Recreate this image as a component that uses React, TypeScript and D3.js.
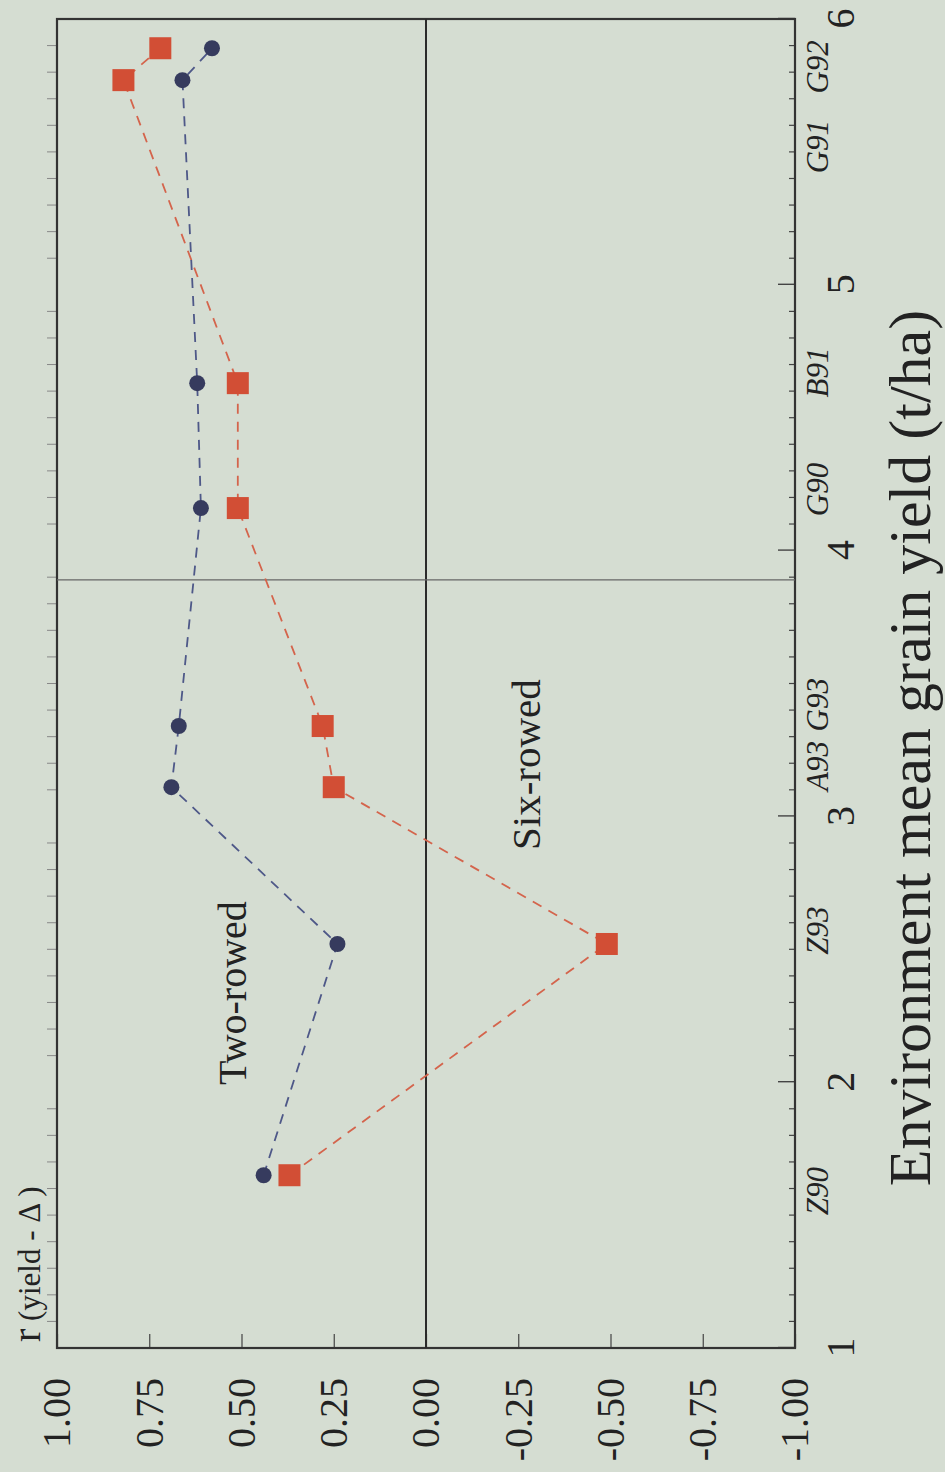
import { useEffect, useRef } from "react";
import * as d3 from "d3";

// environments, ordered by mean grain yield
const environments = ["Z90", "Z93", "A93", "G93", "G90", "B91", "G91", "G92"];
const envYield = [1.65, 2.52, 3.11, 3.34, 4.16, 4.63, 5.77, 5.89];
const twoRowed = [0.44, 0.24, 0.69, 0.67, 0.61, 0.62, 0.66, 0.58];
const sixRowed = [0.37, -0.49, 0.25, 0.28, 0.51, 0.51, 0.82, 0.72];
// where the environment names sit along the yield axis
const labelYield = [1.59, 2.57, 3.19, 3.42, 4.23, 4.67, 5.52, 5.82];
const rTicks = [1, 0.75, 0.5, 0.25, 0, -0.25, -0.5, -0.75, -1];
const yieldTicks = [1, 2, 3, 4, 5, 6];
const refYield = 3.89;

const FONT = "'Liberation Serif', 'Times New Roman', serif";

function App() {
  const ref = useRef<SVGSVGElement>(null);

  useEffect(() => {
    const pageW = 945;
    const pageH = 1472;
    // chart is drawn upright, then turned a quarter turn
    const W = pageH;
    const H = pageW;
    const margin = { top: 57, right: 19, bottom: 150, left: 124 };

    const svg = d3.select(ref.current);
    svg.selectAll("*").remove();

    svg.append("rect").attr("width", pageW).attr("height", pageH).attr("fill", "#d5ddd2");

    const g = svg.append("g").attr("transform", `translate(0,${pageH}) rotate(-90)`);

    const x = d3.scaleLinear().domain([1, 6]).range([margin.left, W - margin.right]);
    const y = d3.scaleLinear().domain([-1, 1]).range([H - margin.bottom, margin.top]);

    // minor ticks along the yield axis
    const minor = d3.range(1, 6.0001, 0.1).filter((v) => Math.abs(v - Math.round(v)) > 0.01);
    g.append("g")
      .selectAll("line")
      .data(minor)
      .join("line")
      .attr("x1", (d) => x(d))
      .attr("x2", (d) => x(d))
      .attr("y1", y(-1))
      .attr("y2", y(-1) - 6)
      .attr("stroke", "#444")
      .attr("stroke-width", 1.2);
    g.append("g")
      .selectAll("line")
      .data(minor)
      .join("line")
      .attr("x1", (d) => x(d))
      .attr("x2", (d) => x(d))
      .attr("y1", y(1))
      .attr("y2", y(1) - 10)
      .attr("stroke", "#888")
      .attr("stroke-width", 1);

    const yAxis = g
      .append("g")
      .attr("transform", `translate(${margin.left},0)`)
      .call(
        d3
          .axisLeft(y)
          .tickValues(rTicks)
          .tickSize(-14)
          .tickPadding(30)
          .tickFormat((d) => (+d).toFixed(2))
      );
    yAxis.select(".domain").remove();
    yAxis.selectAll("line").attr("stroke", "#444").attr("stroke-width", 1.2);
    yAxis.selectAll("text").attr("font-size", 40).attr("font-family", FONT).attr("fill", "#222");

    const xAxis = g
      .append("g")
      .attr("transform", `translate(0,${H - margin.bottom})`)
      .call(d3.axisBottom(x).tickValues(yieldTicks).tickSize(-17).tickPadding(31).tickFormat(d3.format("d")));
    xAxis.select(".domain").remove();
    xAxis.selectAll("line").attr("stroke", "#444").attr("stroke-width", 1.4);
    xAxis.selectAll("text").attr("font-size", 40).attr("font-family", FONT).attr("fill", "#222");

    // frame, zero line and reference line
    g.append("rect")
      .attr("x", x(1))
      .attr("y", y(1))
      .attr("width", x(6) - x(1))
      .attr("height", y(-1) - y(1))
      .attr("fill", "none")
      .attr("stroke", "#333")
      .attr("stroke-width", 2.2);
    g.append("line")
      .attr("x1", x(1))
      .attr("x2", x(6))
      .attr("y1", y(0))
      .attr("y2", y(0))
      .attr("stroke", "#2a2a2a")
      .attr("stroke-width", 2);
    g.append("line")
      .attr("x1", x(refYield))
      .attr("x2", x(refYield))
      .attr("y1", y(1))
      .attr("y2", y(-1))
      .attr("stroke", "#666")
      .attr("stroke-width", 1.4);

    // environment names
    g.append("g")
      .selectAll("text")
      .data(environments)
      .join("text")
      .attr("x", (d, i) => x(labelYield[i]))
      .attr("y", 828)
      .attr("text-anchor", "middle")
      .attr("font-style", "italic")
      .attr("font-size", 31)
      .attr("font-family", FONT)
      .attr("fill", "#222")
      .text((d) => d);

    const line = d3
      .line<number>()
      .x((d, i) => x(envYield[i]))
      .y((d) => y(d));

    g.append("path")
      .datum(sixRowed)
      .attr("fill", "none")
      .attr("stroke", "#d4644c")
      .attr("stroke-width", 1.8)
      .attr("stroke-dasharray", "10,8")
      .attr("d", line);
    g.append("path")
      .datum(twoRowed)
      .attr("fill", "none")
      .attr("stroke", "#4e5888")
      .attr("stroke-width", 1.8)
      .attr("stroke-dasharray", "10,8")
      .attr("d", line);

    const sq = 22;
    g.append("g")
      .selectAll("rect")
      .data(sixRowed)
      .join("rect")
      .attr("x", (d, i) => x(envYield[i]) - sq / 2)
      .attr("y", (d) => y(d) - sq / 2)
      .attr("width", sq)
      .attr("height", sq)
      .attr("fill", "#d24e35");
    g.append("g")
      .selectAll("circle")
      .data(twoRowed)
      .join("circle")
      .attr("cx", (d, i) => x(envYield[i]))
      .attr("cy", (d) => y(d))
      .attr("r", 8)
      .attr("fill", "#363b5e");

    g.append("text")
      .attr("x", 387)
      .attr("y", 246)
      .attr("font-size", 40)
      .attr("font-family", FONT)
      .attr("fill", "#222")
      .text("Two-rowed");
    g.append("text")
      .attr("x", 622)
      .attr("y", 540)
      .attr("font-size", 41)
      .attr("font-family", FONT)
      .attr("fill", "#222")
      .text("Six-rowed");

    const yTitle = g
      .append("text")
      .attr("x", 130)
      .attr("y", 40)
      .attr("font-family", FONT)
      .attr("fill", "#222");
    yTitle.append("tspan").attr("font-size", 40).text("r");
    yTitle.append("tspan").attr("font-size", 31).text(" (yield - Δ )");

    g.append("text")
      .attr("x", 724)
      .attr("y", 930)
      .attr("text-anchor", "middle")
      .attr("font-size", 60)
      .attr("font-family", FONT)
      .attr("fill", "#222")
      .text("Environment mean grain yield (t/ha)");
  }, []);

  return (
    <svg
      ref={ref}
      width={945}
      height={1472}
      style={{ position: "absolute", top: 0, left: 0, display: "block" }}
    />
  );
}

export default App;
